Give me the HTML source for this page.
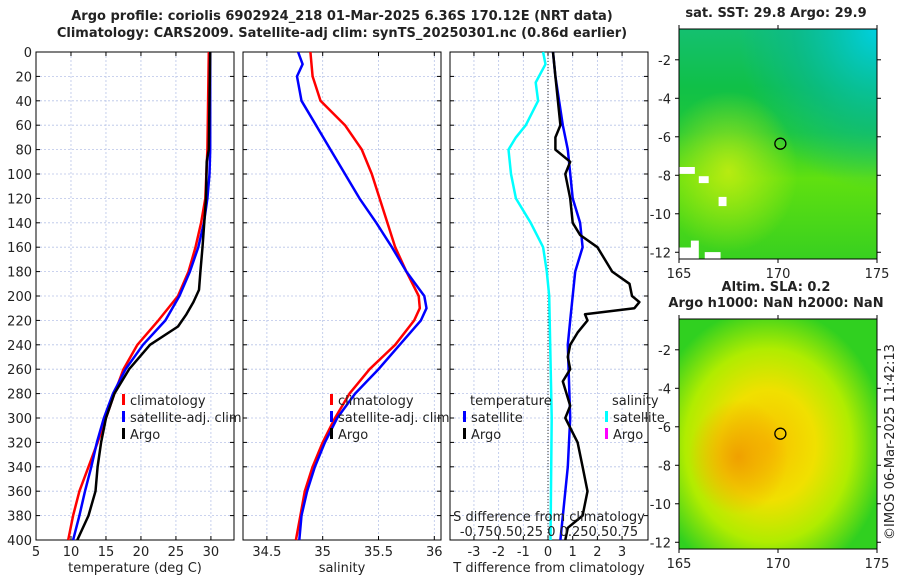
<!DOCTYPE html>
<html><head><meta charset="utf-8"><style>
body{margin:0;background:#fff;width:900px;height:580px;overflow:hidden;font-family:"DejaVu Sans","Liberation Sans",sans-serif}
svg text{font-family:"DejaVu Sans","Liberation Sans",sans-serif;fill:#222}
</style></head><body>
<svg id="c" width="900" height="580" xmlns="http://www.w3.org/2000/svg"></svg>
<script>
// ---- data ----
const depthTicks=[0,20,40,60,80,100,120,140,160,180,200,220,240,260,280,300,320,340,360,380,400];
const tTicks=[5,10,15,20,25,30];
const sTicks=[34.5,35,35.5,36];
const dTicks=[-3,-2,-1,0,1,2,3];
const tClimDepth=[0,40,80,120,140,160,180,200,220,240,260,280,300,320,340,360,380,400];
const tClim=[29.7,29.6,29.5,29.2,28.6,27.8,26.8,25.3,22.5,19.5,17.5,16.2,15.0,13.8,12.5,11.2,10.3,9.6];
const tSatDepth=[0,40,80,100,120,140,160,180,200,220,240,260,280,300,320,340,360,380,400];
const tSat=[29.9,29.9,29.9,29.8,29.5,29.0,28.2,27.0,25.5,23.5,20.3,17.8,16.0,14.7,13.7,12.9,12.0,11.2,10.3];
const tArgoDepth=[0,40,80,90,120,160,180,195,205,215,225,240,260,280,300,320,340,360,380,400];
const tArgo=[29.9,29.8,29.7,29.4,29.3,28.8,28.5,28.3,27.5,26.5,25.3,21.3,18.3,16.2,15.0,14.3,13.8,13.5,12.5,10.9];
const sClimDepth=[0,20,40,60,80,100,120,140,160,180,200,210,220,240,260,280,300,320,340,360,380,400];
const sClim=[34.89,34.91,34.98,35.2,35.35,35.44,35.51,35.58,35.65,35.75,35.86,35.87,35.82,35.65,35.42,35.24,35.11,35.0,34.91,34.84,34.8,34.76];
const sSatDepth=[0,10,20,40,60,80,100,120,140,160,180,200,210,220,240,260,280,300,320,340,360,380,400];
const sSat=[34.78,34.82,34.77,34.81,34.94,35.07,35.2,35.33,35.48,35.62,35.75,35.91,35.93,35.88,35.69,35.5,35.29,35.13,35.02,34.93,34.86,34.81,34.79];
const dSalDepth=[0,10,25,40,60,70,80,100,120,140,160,180,200,300,400];
const dSal=[-0.05,-0.025,-0.125,-0.1,-0.225,-0.325,-0.4,-0.375,-0.325,-0.175,-0.05,-0.012,0.012,0.037,0.025];
const dTSatDepth=[0,20,60,80,120,140,160,180,200,220,240,300,340,400];
const dTSat=[0.2,0.3,0.6,0.8,1.0,1.3,1.4,1.1,1.0,0.9,0.8,0.9,0.8,0.5];
const dTArgoDepth=[0,20,40,60,70,80,90,100,120,140,150,160,180,190,200,205,210,215,220,230,240,250,260,270,290,300,320,340,360,380,390,400];
const dTArgo=[0.2,0.3,0.4,0.5,0.3,0.3,0.9,0.7,0.9,1.0,1.3,2.0,2.6,3.3,3.4,3.7,3.5,1.5,1.6,1.2,0.9,0.8,0.9,0.6,0.9,0.7,1.2,1.4,1.6,1.4,0.8,0.7];

const NS='http://www.w3.org/2000/svg';
const svg=document.getElementById('c');
function el(tag,a,parent){const e=document.createElementNS(NS,tag);for(const k in a)e.setAttribute(k,a[k]);(parent||svg).appendChild(e);return e;}
function txt(x,y,s,a,parent){const e=el('text',Object.assign({x:x,y:y,'font-size':13},a||{}),parent);e.textContent=s;return e;}
const Y0=52,Y1=540;
const yD=d=>Y0+(d/400)*(Y1-Y0);

function panel(name,x0,x1,xmin,xmax,ticks,fmt,xlabel,yLabels){
  const g=el('g',{});
  
  
  const xs=v=>x0+(v-xmin)/(xmax-xmin)*(x1-x0);
  depthTicks.forEach(d=>{
    if(d>0&&d<400)el('line',{x1:x0,x2:x1,y1:yD(d),y2:yD(d),stroke:'#b8c4e8','stroke-width':0.8,'stroke-dasharray':'2,2'},g);
    el('line',{x1:x0,x2:x0+4,y1:yD(d),y2:yD(d),stroke:'#000'},g);
    el('line',{x1:x1-4,x2:x1,y1:yD(d),y2:yD(d),stroke:'#000'},g);
    if(yLabels)txt(x0-4,yD(d)+5,String(d),{'text-anchor':'end'},g);
  });
  ticks.forEach(v=>{
    const x=xs(v);
    el('line',{x1:x,x2:x,y1:Y0,y2:Y1,stroke:'#b8c4e8','stroke-width':0.8,'stroke-dasharray':'2,2'},g);
    el('line',{x1:x,x2:x,y1:Y1-4,y2:Y1,stroke:'#000'},g);
    el('line',{x1:x,x2:x,y1:Y0,y2:Y0+4,stroke:'#000'},g);
    txt(x,556,fmt(v),{'text-anchor':'middle'},g);
  });
  el('rect',{x:x0,y:Y0,width:x1-x0,height:Y1-Y0,fill:'none',stroke:'#000','stroke-width':1},g);
  const xl=txt((x0+x1)/2,572,xlabel,{'text-anchor':'middle'},g);
  
  return {g,xs};
}
function line(p,vals,depths,color,w,name){
  const pts=vals.map((v,i)=>p.xs(v).toFixed(1)+','+yD(depths[i]).toFixed(1)).join(' ');
  const l=el('polyline',{points:pts,fill:'none',stroke:color,'stroke-width':w,'stroke-linejoin':'round'},p.g);
  
  
}
function leg(g,x,y,color,label){
  el('rect',{x:x,y:y-11,width:3,height:11,fill:color},g);
  txt(x+8,y,label,{},g);
}
// titles
const t1=txt(342,20,'Argo profile: coriolis 6902924_218 01-Mar-2025 6.36S 170.12E (NRT data)',{'text-anchor':'middle','font-weight':'bold','font-size':13});

const t2=txt(342,37,'Climatology: CARS2009. Satellite-adj clim: synTS_20250301.nc (0.86d earlier)',{'text-anchor':'middle','font-weight':'bold','font-size':13});


// panel 1
const p1=panel('temperature-panel',36,234,5,33.3,tTicks,String,'temperature (deg C)',true);
line(p1,tClim,tClimDepth,'#f00',2.5,'climatology-temperature-line');
line(p1,tSat,tSatDepth,'#00f',2.5,'satellite-temperature-line');
line(p1,tArgo,tArgoDepth,'#000',2.5,'argo-temperature-line');
leg(p1.g,122,405,'#f00','climatology');leg(p1.g,122,422,'#00f','satellite-adj. clim');leg(p1.g,122,439,'#000','Argo');
// panel 2
const p2=panel('salinity-panel',243,441,34.286,36.06,sTicks,String,'salinity',false);
line(p2,sClim,sClimDepth,'#f00',2.5,'climatology-salinity-line');
line(p2,sSat,sSatDepth,'#00f',2.5,'satellite-salinity-line');
leg(p2.g,330,405,'#f00','climatology');leg(p2.g,330,422,'#00f','satellite-adj. clim');leg(p2.g,330,439,'#000','Argo');
// panel 3
const p3=panel('difference-panel',450,648,-3.97,4.05,dTicks,String,'T difference from climatology',false);
const zx=p3.xs(0);
el('line',{x1:zx,x2:zx,y1:Y0,y2:Y1,stroke:'#333','stroke-width':1,'stroke-dasharray':'1,2'},p3.g);
const dSalScaled=dSal.map(v=>v*4);
line(p3,dSalScaled,dSalDepth,'#0ff',2.5,'satellite-salinity-diff-line');
line(p3,dTSat,dTSatDepth,'#00f',2.5,'satellite-temperature-diff-line');
line(p3,dTArgo,dTArgoDepth,'#000',2.5,'argo-temperature-diff-line');
txt(470,405,'temperature',{},p3.g);leg(p3.g,463,422,'#00f','satellite');leg(p3.g,463,439,'#000','Argo');
txt(612,405,'salinity',{},p3.g);leg(p3.g,605,422,'#0ff','satellite');leg(p3.g,605,439,'#f0f','Argo');
const sd=txt(549,521,'S difference from climatology',{'text-anchor':'middle'},p3.g);

txt(549,536,'-0.750.50.25 0 0.250.50.75',{'text-anchor':'middle'},p3.g);

// maps
const defs=el('defs',{});
defs.innerHTML=`
<linearGradient id="g1" x1="0" y1="0" x2="0" y2="1"><stop offset="0" stop-color="#14c070"/><stop offset="0.25" stop-color="#10c048"/><stop offset="0.45" stop-color="#20c838"/><stop offset="0.65" stop-color="#60e010"/><stop offset="1" stop-color="#38d020"/></linearGradient>
<radialGradient id="g1b" cx="0.25" cy="0.62" r="0.35"><stop offset="0" stop-color="#c8ee10" stop-opacity="0.85"/><stop offset="1" stop-color="#c8ee10" stop-opacity="0"/></radialGradient>
<radialGradient id="g1c" cx="1" cy="0" r="0.7"><stop offset="0" stop-color="#00d0e0" stop-opacity="1"/><stop offset="0.6" stop-color="#08b898" stop-opacity="0.6"/><stop offset="1" stop-color="#08b898" stop-opacity="0"/></radialGradient>
<radialGradient id="g2" cx="0.45" cy="0.55" r="0.6"><stop offset="0" stop-color="#f8c000"/><stop offset="0.4" stop-color="#f0e000"/><stop offset="0.7" stop-color="#b0ec00"/><stop offset="1" stop-color="#30d020"/></radialGradient>
<radialGradient id="g2b" cx="0.3" cy="0.6" r="0.25"><stop offset="0" stop-color="#f0a000"/><stop offset="1" stop-color="#f0a000" stop-opacity="0"/></radialGradient>`;
function mapPanel(name,y0,y1,title,fill,extra){
  const g=el('g',{});
  
  
  const x0=679,x1=877;
  el('rect',{x:x0,y:y0,width:x1-x0,height:y1-y0,fill:fill},g);
  extra(g,x0,y0,x1-x0,y1-y0);
  const lat=v=>y0+(v-(-0.4))/(-12.35-(-0.4))*(y1-y0);
  const lon=v=>x0+(v-165)/10*(x1-x0);
  [-2,-4,-6,-8,-10,-12].forEach(v=>{el('line',{x1:x0-4,x2:x0,y1:lat(v),y2:lat(v),stroke:'#000'},g);el('line',{x1:x1,x2:x1+4,y1:lat(v),y2:lat(v),stroke:'#000'},g);txt(x0-8,lat(v)+5,String(v),{'text-anchor':'end'},g);});
  [165,170,175].forEach(v=>{el('line',{x1:lon(v),x2:lon(v),y1:y1,y2:y1+4,stroke:'#000'},g);el('line',{x1:lon(v),x2:lon(v),y1:y0-4,y2:y0,stroke:'#000'},g);txt(lon(v),y1+19,String(v),{'text-anchor':'middle'},g);});
  el('rect',{x:x0,y:y0,width:x1-x0,height:y1-y0,fill:'none',stroke:'#000'},g);
  el('ellipse',{cx:lon(170.12),cy:lat(-6.36),rx:5.5,ry:5.5,fill:'none',stroke:'#000','stroke-width':1.3},g);
  title.forEach((t,i)=>txt(776,y0-12-(title.length-1-i)*16,t,{'text-anchor':'middle','font-weight':'bold'},g));
}
mapPanel('sst-map',29,259,['sat. SST: 29.8 Argo: 29.9'],'url(#g1)',(g,x,y,w,h)=>{
  el('rect',{x:x,y:y,width:w,height:h,fill:'url(#g1c)'},g);
  el('rect',{x:x,y:y,width:w,height:h,fill:'url(#g1b)'},g);
  [[0,0.6,0.08,0.03],[0.1,0.64,0.05,0.03],[0,0.95,0.07,0.05],[0.2,0.73,0.04,0.04],[0.06,0.92,0.04,0.08],[0.13,0.97,0.08,0.03]].forEach(r=>el('rect',{x:x+r[0]*w,y:y+r[1]*h,width:r[2]*w,height:r[3]*h,fill:'#fff'},g));
});
mapPanel('sla-map',319,549,['Altim. SLA: 0.2','Argo h1000: NaN h2000: NaN'],'url(#g2)',(g,x,y,w,h)=>{
  el('rect',{x:x,y:y,width:w,height:h,fill:'url(#g2b)'},g);
});
const cp=txt(0,0,'©IMOS 06-Mar-2025 11:42:13',{transform:'translate(894,540) rotate(-90)','font-size':13});

</script>
</body></html>
